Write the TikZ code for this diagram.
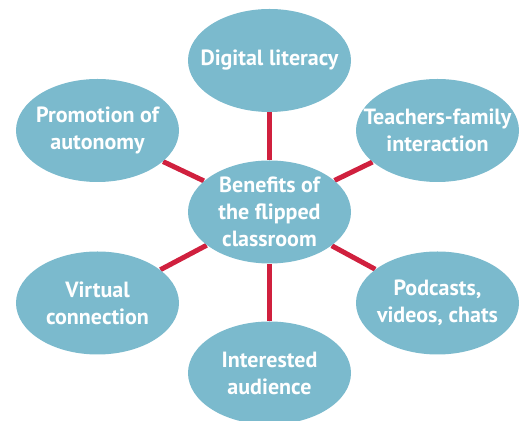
\documentclass[tikz,border=0pt]{standalone}
\usepackage{tikz}
\usepackage{xcolor}
\usepackage{fontspec}
\setmainfont{PT Sans}
\usetikzlibrary{shapes.geometric, backgrounds, positioning}

\definecolor{bubble}{HTML}{7BBACD}
\definecolor{spoke}{HTML}{D0203E}

\begin{document}
\begin{tikzpicture}[x=0.5pt, y=-0.5pt,
    benefit/.style={ellipse, fill=bubble, minimum width=81.5pt, minimum height=51.5pt,
      inner sep=-30pt, align=center, text=white, font=\bfseries\fontsize{11}{13.5}\selectfont},
    link/.style={draw=spoke, line width=2.5pt}]
      \useasboundingbox (0,0) rectangle (521,421);

      \node[benefit] (center) at (269.5,212) {Benefits of\\the flipped\\classroom};
      \node[benefit] (digital) at (269.5,60.5) {Digital literacy};
      \node[benefit] (autonomy) at (97.5,130.5) {Promotion of\\autonomy};
      \node[benefit] (family) at (437.5,130.5) {Teachers-family\\interaction};
      \node[benefit] (virtual) at (97.5,303) {Virtual\\connection};
      \node[benefit] (podcasts) at (437.5,303) {Podcasts,\\videos, chats};
      \node[benefit] (audience) at (269.5,373) {Interested\\audience};

      \begin{scope}[on background layer]
        \draw[link] (center) -- (digital);
        \draw[link] (center) -- (autonomy);
        \draw[link] (center) -- (family);
        \draw[link] (center) -- (virtual);
        \draw[link] (center) -- (podcasts);
        \draw[link] (center) -- (audience);
      \end{scope}
  \end{tikzpicture}
\end{document}
